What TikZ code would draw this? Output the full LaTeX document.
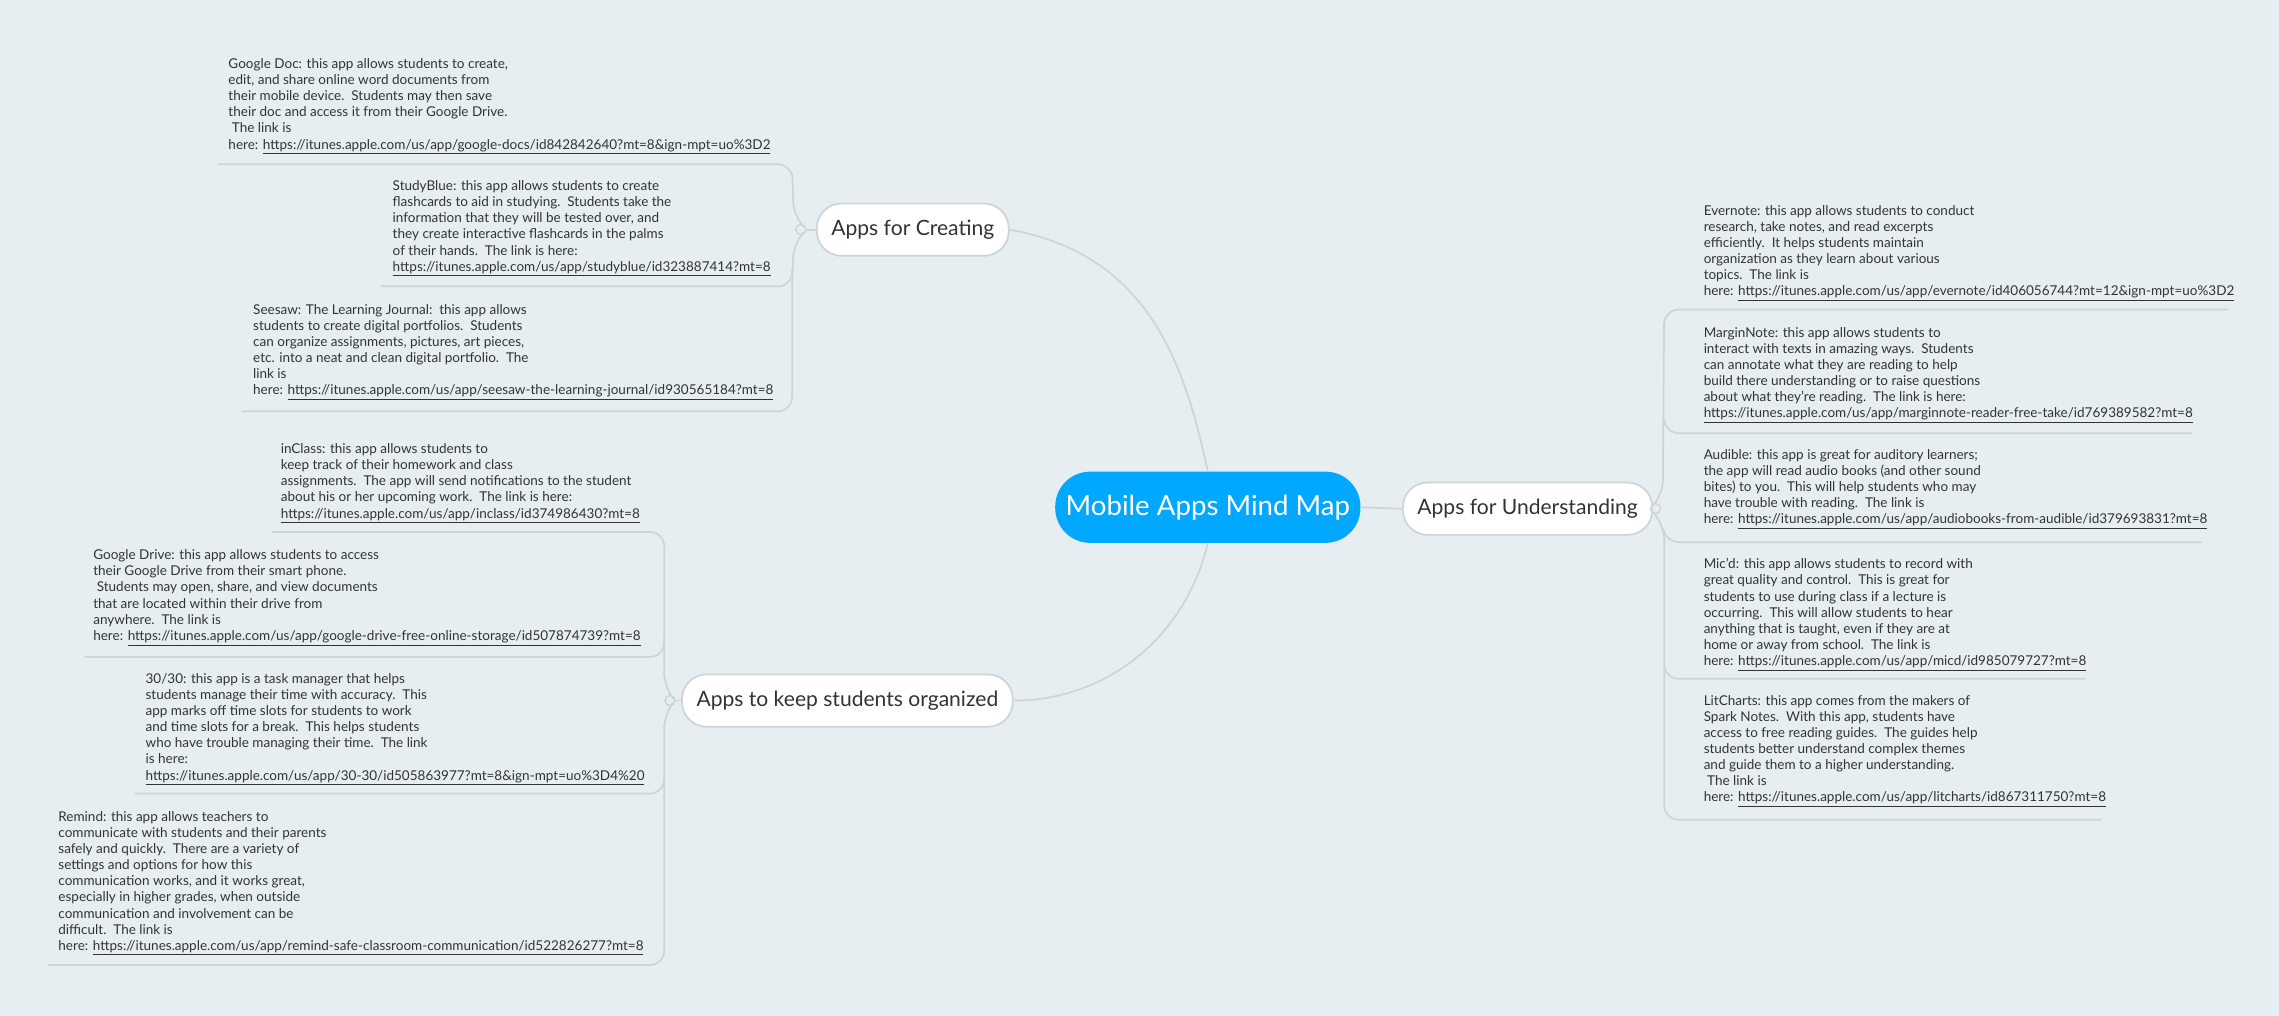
\documentclass[tikz,border=0pt]{standalone}
\usepackage{fontspec}
\setmainfont{Lato}
\definecolor{bg}{HTML}{E6EEF2}
\definecolor{ln}{HTML}{CDD5DA}
\definecolor{tx}{HTML}{333333}
\definecolor{ctr}{HTML}{00A9FF}
\newcommand{\lk}[1]{\underline{#1}}
\begin{document}
\begin{tikzpicture}[x=1pt,y=-1pt,
  leaf/.style={anchor=north west,inner sep=0pt,align=left,text=tx,font=\fontsize{9.3}{11.1}\selectfont},
  topic/.style={draw=ln,line width=1.2pt,fill=white,rounded corners=17pt,minimum height=36pt,inner xsep=10pt,text=tx,font=\fontsize{14.5}{16}\selectfont},
  conn/.style={draw=ln,line width=1.2pt},
  dot/.style={circle,draw=ln,line width=1pt,fill=bg,inner sep=0pt,minimum size=7pt}]
\fill[bg] (0,0) rectangle (1568,699);
\useasboundingbox (0,0) rectangle (1568,699);
% central
\node[fill=ctr,rounded corners=24pt,minimum width=210pt,minimum height=49pt,text=white,font=\fontsize{19}{22}\selectfont] (c) at (831,349) {Mobile Apps Mind Map};
\node[topic] (cre) at (628,158) {Apps for Creating};
\node[topic] (und) at (1051,350) {Apps for Understanding};
\node[topic] (org) at (583,482) {Apps to keep students organized};
\draw[conn] (c.north) .. controls (815,250) and (790,175) .. (cre.east);
\draw[conn] (c.south) .. controls (815,440) and (760,482) .. (org.east);
\draw[conn] (c.east) -- (und.west);
% creating branch
\node[dot] (d1) at (551,158) {};
\draw[conn] (cre.west) -- (d1);
\draw[conn,rounded corners=10pt] (d1.north) -- ++(-5,-5) -- (545,113) -- (150,113);
\draw[conn,rounded corners=10pt] (d1.south) -- ++(-5,5) -- (545,197) -- (262,197);
\draw[conn,rounded corners=10pt] (545,185) -- (545,283) -- (166,283);
\node[leaf] (t1) at (157,40) {Google Doc: this app allows students to create,\\edit, and share online word documents from\\their mobile device.\ \ Students may then save\\their doc and access it from their Google Drive.\\\ The link is\\here: \lk{https://itunes.apple.com/us/app/google-docs/id842842640?mt=8\&ign-mpt=uo\%3D2}};
\node[leaf] (t2) at (270,124) {StudyBlue: this app allows students to create\\flashcards to aid in studying.\ \ Students take the\\information that they will be tested over, and\\they create interactive flashcards in the palms\\of their hands.\ \ The link is here:\\\lk{https://itunes.apple.com/us/app/studyblue/id323887414?mt=8}};
\node[leaf] (t3) at (174,209) {Seesaw: The Learning Journal:\ \ this app allows\\students to create digital portfolios.\ \ Students\\can organize assignments, pictures, art pieces,\\etc. into a neat and clean digital portfolio.\ \ The\\link is\\here: \lk{https://itunes.apple.com/us/app/seesaw-the-learning-journal/id930565184?mt=8}};
% organized branch
\node[dot] (d2) at (461,482) {};
\draw[conn] (org.west) -- (d2);
\draw[conn,rounded corners=10pt] (d2.north) -- ++(-4,-5) -- (457,366) -- (187,366);
\draw[conn,rounded corners=10pt] (457,440) -- (457,452) -- (58,452);
\draw[conn,rounded corners=10pt] (d2.south) -- ++(-4,5) -- (457,546) -- (93,546);
\draw[conn,rounded corners=10pt] (457,535) -- (457,664) -- (33,664);
\node[leaf] (t4) at (193,305) {inClass: this app allows students to\\keep track of their homework and class\\assignments.\ \ The app will send notifications to the student\\about his or her upcoming work.\ \ The link is here:\\\lk{https://itunes.apple.com/us/app/inclass/id374986430?mt=8}};
\node[leaf] (t5) at (64,378) {Google Drive: this app allows students to access\\their Google Drive from their smart phone.\\\ Students may open, share, and view documents\\that are located within their drive from\\anywhere.\ \ The link is\\here: \lk{https://itunes.apple.com/us/app/google-drive-free-online-storage/id507874739?mt=8}};
\node[leaf] (t6) at (100,463) {30/30: this app is a task manager that helps\\students manage their time with accuracy.\ \ This\\app marks off time slots for students to work\\and time slots for a break.\ \ This helps students\\who have trouble managing their time.\ \ The link\\is here:\\\lk{https://itunes.apple.com/us/app/30-30/id505863977?mt=8\&ign-mpt=uo\%3D4\%20}};
\node[leaf] (t7) at (40,558) {Remind: this app allows teachers to\\communicate with students and their parents\\safely and quickly.\ \ There are a variety of\\settings and options for how this\\communication works, and it works great,\\especially in higher grades, when outside\\communication and involvement can be\\difficult.\ \ The link is\\here: \lk{https://itunes.apple.com/us/app/remind-safe-classroom-communication/id522826277?mt=8}};
% understanding branch
\node[dot] (d3) at (1139,350) {};
\draw[conn] (und.east) -- (d3);
\draw[conn,rounded corners=10pt] (d3.north) -- ++(5,-5) -- (1145,213) -- (1533,213);
\draw[conn,rounded corners=10pt] (1145,290) -- (1145,298) -- (1508,298);
\draw[conn,rounded corners=10pt] (d3.south) -- ++(5,5) -- (1145,373) -- (1515,373);
\draw[conn,rounded corners=10pt] (1145,365) -- (1145,467) -- (1435,467);
\draw[conn,rounded corners=10pt] (1145,460) -- (1145,564) -- (1446,564);
\node[leaf] (t8) at (1172,141) {Evernote: this app allows students to conduct\\research, take notes, and read excerpts\\efficiently.\ \ It helps students maintain\\organization as they learn about various\\topics.\ \ The link is\\here: \lk{https://itunes.apple.com/us/app/evernote/id406056744?mt=12\&ign-mpt=uo\%3D2}};
\node[leaf] (t9) at (1172,225) {MarginNote: this app allows students to\\interact with texts in amazing ways.\ \ Students\\can annotate what they are reading to help\\build there understanding or to raise questions\\about what they're reading.\ \ The link is here:\\\lk{https://itunes.apple.com/us/app/marginnote-reader-free-take/id769389582?mt=8}};
\node[leaf] (t10) at (1172,309) {Audible: this app is great for auditory learners;\\the app will read audio books (and other sound\\bites) to you.\ \ This will help students who may\\have trouble with reading.\ \ The link is\\here: \lk{https://itunes.apple.com/us/app/audiobooks-from-audible/id379693831?mt=8}};
\node[leaf] (t11) at (1172,384) {Mic'd: this app allows students to record with\\great quality and control.\ \ This is great for\\students to use during class if a lecture is\\occurring.\ \ This will allow students to hear\\anything that is taught, even if they are at\\home or away from school.\ \ The link is\\here: \lk{https://itunes.apple.com/us/app/micd/id985079727?mt=8}};
\node[leaf] (t12) at (1172,478) {LitCharts: this app comes from the makers of\\Spark Notes.\ \ With this app, students have\\access to free reading guides.\ \ The guides help\\students better understand complex themes\\and guide them to a higher understanding.\\\ The link is\\here: \lk{https://itunes.apple.com/us/app/litcharts/id867311750?mt=8}};
\end{tikzpicture}
\end{document}
